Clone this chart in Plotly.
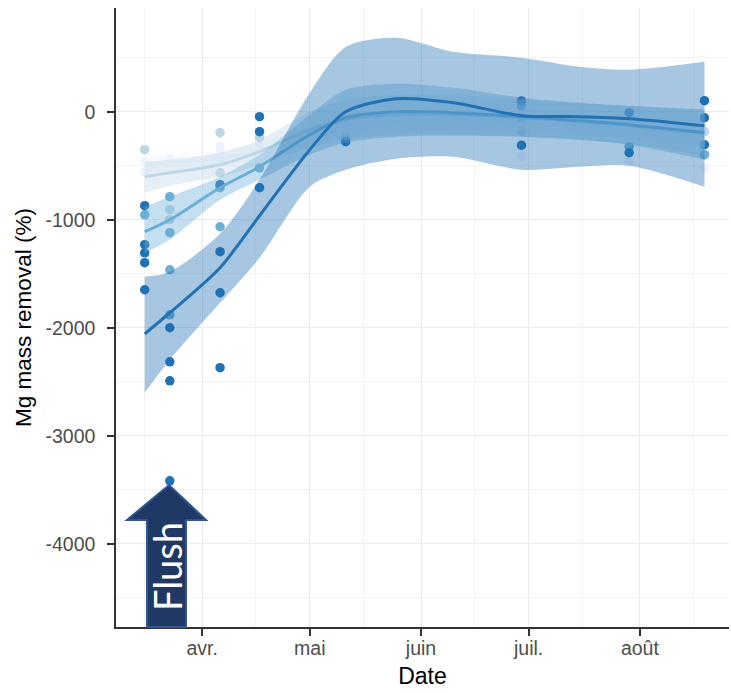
import plotly.graph_objects as go

# ---------------- data ----------------
series_names = ["S1", "S2", "S3", "S4"]
series_colors = ["#eff3ff", "#bdd7e7", "#6baed6", "#2171b5"]

# observed points per series
s1_pt_dates = ["2019-03-16", "2019-03-16", "2019-03-23", "2019-04-06", "2019-04-06", "2019-04-06",
               "2019-04-17", "2019-05-11", "2019-06-29", "2019-07-29", "2019-08-19"]
s1_pt_values = [-463, -555, -435, -324, -370, -444, -324, -213, -414, -472, -519]

s2_pt_dates = ["2019-03-16", "2019-03-23", "2019-03-23", "2019-04-06", "2019-04-06",
               "2019-04-17", "2019-05-11", "2019-06-29", "2019-08-19"]
s2_pt_values = [-352, -907, -1000, -194, -565, -240, -231, -180, -185]

s3_pt_dates = ["2019-03-16", "2019-03-23", "2019-03-23", "2019-03-23", "2019-03-23",
               "2019-04-06", "2019-04-06", "2019-04-17", "2019-05-11", "2019-06-29", "2019-06-29",
               "2019-07-29", "2019-08-19"]
s3_pt_values = [-954, -787, -1120, -1463, -1880, -704, -1065, -519, -259, 55, -56, -324, -398]

s4_pt_dates = ["2019-03-16", "2019-03-16", "2019-03-16", "2019-03-16", "2019-03-16",
               "2019-03-23", "2019-03-23", "2019-03-23", "2019-03-23",
               "2019-04-06", "2019-04-06", "2019-04-06", "2019-04-06",
               "2019-04-17", "2019-04-17", "2019-04-17", "2019-05-11",
               "2019-06-29", "2019-06-29", "2019-07-29", "2019-07-29",
               "2019-08-19", "2019-08-19", "2019-08-19"]
s4_pt_values = [-870, -1231, -1306, -1398, -1648,
                -2000, -2315, -2491, -3417,
                -676, -1296, -1676, -2370,
                -46, -185, -704, -278,
                100, -310, -9, -380,
                102, -56, -306]

# smoothed fits (loess) and confidence bands
smooth_dates = ["2019-03-16", "2019-03-23", "2019-04-06", "2019-04-17", "2019-05-01", "2019-05-11",
                "2019-05-25", "2019-06-10", "2019-06-29", "2019-07-15", "2019-07-29", "2019-08-19"]

s1_fit = [-480, -470, -430, -360, -220, -140, -90, -80, -100, -130, -160, -220]
s1_lo = [-560, -545, -500, -430, -300, -230, -190, -180, -190, -215, -250, -330]
s1_hi = [-400, -395, -360, -290, -140, -50, 10, 20, -10, -45, -70, -110]

s2_fit = [-602, -565, -491, -370, -167, -74, -28, -28, -56, -93, -130, -194]
s2_lo = [-750, -685, -602, -491, -333, -259, -213, -213, -231, -259, -300, -410]
s2_hi = [-463, -444, -380, -259, 0, 111, 157, 157, 111, 80, 50, 20]

s3_fit = [-1111, -1000, -704, -509, -213, -56, 0, -9, -46, -83, -120, -194]
s3_lo = [-1306, -1185, -815, -630, -398, -287, -231, -222, -231, -259, -306, -444]
s3_hi = [-880, -787, -602, -398, -28, 204, 259, 222, 130, 83, 56, 19]

s4_fit = [-2056, -1861, -1444, -963, -352, 0, 120, 83, -37, -46, -65, -130]
s4_lo = [-2602, -2296, -1769, -1352, -694, -537, -435, -417, -537, -509, -500, -694]
s4_hi = [-1528, -1481, -1130, -630, 176, 600, 685, 555, 500, 417, 389, 463]

y_tick_vals = [0, -1000, -2000, -3000, -4000]
y_tick_text = ["0", "-1000", "-2000", "-3000", "-4000"]
x_tick_vals = ["2019-04-01", "2019-05-01", "2019-06-01", "2019-07-01", "2019-08-01"]
x_tick_text = ["avr.", "mai", "juin", "juil.", "août"]
x_minor_vals = ["2019-03-16", "2019-04-16", "2019-05-16", "2019-06-16", "2019-07-16", "2019-08-16"]
y_minor_vals = [500, -500, -1500, -2500, -3500, -4500]

annotation_text = "Flush"

# ---------------- figure ----------------
W, H = 731, 693
ML, MR, MT, MB = 116, 2, 8, 66

pts = [(s1_pt_dates, s1_pt_values), (s2_pt_dates, s2_pt_values),
       (s3_pt_dates, s3_pt_values), (s4_pt_dates, s4_pt_values)]
smooths = [(s1_fit, s1_lo, s1_hi), (s2_fit, s2_lo, s2_hi),
           (s3_fit, s3_lo, s3_hi), (s4_fit, s4_lo, s4_hi)]


def rgba(hexc, a):
    h = hexc.lstrip("#")
    r, g, b = int(h[0:2], 16), int(h[2:4], 16), int(h[4:6], 16)
    return f"rgba({r},{g},{b},{a})"


fig = go.Figure()

for (d, v), col, name in zip(pts, series_colors, series_names):
    fig.add_trace(go.Scatter(x=d, y=v, mode="markers", name=name, showlegend=False,
                             marker=dict(size=9.5, color=col, line=dict(width=0))))

for (fit, lo, hi), col, name in zip(smooths, series_colors, series_names):
    fig.add_trace(go.Scatter(x=smooth_dates, y=lo, mode="lines",
                             line=dict(width=0, shape="spline", smoothing=0.8),
                             hoverinfo="skip", showlegend=False))
    fig.add_trace(go.Scatter(x=smooth_dates, y=hi, mode="lines", fill="tonexty",
                             fillcolor=rgba(col, 0.4),
                             line=dict(width=0, shape="spline", smoothing=0.8),
                             hoverinfo="skip", showlegend=False))
    fig.add_trace(go.Scatter(x=smooth_dates, y=fit, mode="lines", showlegend=False, name=name,
                             line=dict(color=col, width=3, shape="spline", smoothing=0.8)))

pw = W - ML - MR
ph = H - MT - MB


def px(x):
    return (x - ML) / pw


def py(y):
    return (H - MB - y) / ph


arrow = [(147, 627), (147, 520), (127, 520), (169, 485), (206, 520), (186, 520), (186, 627)]
path = "M " + " L ".join(f"{px(x):.4f},{py(y):.4f}" for x, y in arrow) + " Z"
fig.add_shape(type="path", path=path, xref="paper", yref="paper",
              fillcolor="#203864", line=dict(color="#2f5597", width=2), layer="above")
fig.add_annotation(x=px(167), y=py(567), xref="paper", yref="paper", text=annotation_text,
                   xanchor="center", yanchor="middle",
                   showarrow=False, textangle=-90,
                   font=dict(family="Lato, Liberation Sans", size=38, color="white"))

fig.update_layout(
    width=W, height=H, margin=dict(l=ML, r=MR, t=MT, b=MB),
    paper_bgcolor="white", plot_bgcolor="white",
    font=dict(family="Liberation Sans, Arial, sans-serif"),
    showlegend=False,
)
fig.update_xaxes(
    type="date", range=["2019-03-08", "2019-08-25 20:00"],
    tickmode="array", tickvals=x_tick_vals, ticktext=x_tick_text,
    tickfont=dict(size=19.5, color="#4d4d4d"),
    ticks="outside", ticklen=7, tickcolor="#333333", tickwidth=1.5,
    ticklabelstandoff=-4,
    showgrid=True, gridcolor="#ebebeb", gridwidth=1.2,
    minor=dict(tickmode="array", tickvals=x_minor_vals, showgrid=True, gridcolor="#f3f3f3", gridwidth=0.8, ticks=""),
    showline=True, linecolor="#333333", linewidth=1.5, zeroline=False,
    title=dict(text="Date", font=dict(size=23, color="black"), standoff=10),
)
fig.update_yaxes(
    range=[-4770, 960],
    tickmode="array", tickvals=y_tick_vals, ticktext=y_tick_text,
    tickfont=dict(size=19.5, color="#4d4d4d"),
    ticks="outside", ticklen=7, tickcolor="#333333", tickwidth=1.5,
    ticklabelstandoff=8,
    showgrid=True, gridcolor="#ebebeb", gridwidth=1.2,
    minor=dict(tickmode="array", tickvals=y_minor_vals, showgrid=True, gridcolor="#f3f3f3", gridwidth=0.8, ticks=""),
    showline=True, linecolor="#333333", linewidth=1.5, zeroline=False,
    title=dict(text="Mg mass removal (%)", font=dict(size=22.5, color="black"), standoff=8),
)

fig.write_html("out.html")
